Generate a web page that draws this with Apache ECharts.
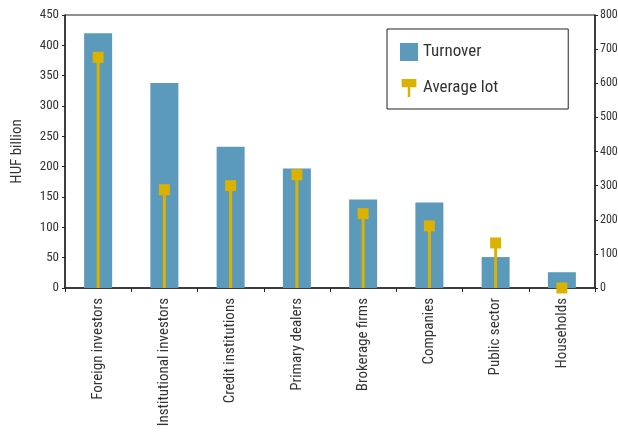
<html>
<head>
<meta charset="UTF-8">
<title>Turnover by sector</title>
<script src="https://cdn.jsdelivr.net/npm/echarts@6/dist/echarts.min.js"></script>
<style>
    body{ margin:0; background:#fff; }
    #main{ width:618px; height:433px; }
</style>
</head>
<body>
<div id="main"></div>
<script>
// data
var categories = ['Foreign investors', 'Institutional investors', 'Credit institutions', 'Primary dealers',
                  'Brokerage firms', 'Companies', 'Public sector', 'Households'];
var turnover = [420, 338, 233, 197, 146, 141, 51, 26];
var averageLot = [676, 288, 300, 332, 218, 182, 132, 0];

var font = '"Roboto Condensed", Roboto, sans-serif';
var blue = '#5b9aba';
var gold = '#dcb200';

var myChart = echarts.init(document.getElementById('main'));

var option = {
    animation: false,
    textStyle: { fontFamily: font },
    grid: {
        left: 65, right: 23, top: 15, bottom: 145,
        outerBoundsMode: 'none',
        containLabel: false,
        show: true, borderColor: '#222', borderWidth: 1
    },
    legend: {
        left: 387, top: 29,
        orient: 'vertical',
        padding: [14, 70, 12, 13],
        itemGap: 18,
        itemTextGap: 12,
        itemWidth: 18, itemHeight: 18,
        borderColor: '#222', borderWidth: 1,
        textStyle: { fontFamily: font, fontSize: 17, color: '#333' },
        data: [
            { name: 'Turnover', icon: 'rect' },
            { name: 'Average lot', icon: 'path://M0,0 L18,0 L18,10 L10.5,10 L10.5,22 L7.5,22 L7.5,10 L0,10 Z', itemStyle: { color: gold } }
        ]
    },
    xAxis: [{
        type: 'category',
        data: categories,
        axisLine: { lineStyle: { color: '#222', width: 1.5 } },
        axisTick: { show: true, alignWithLabel: false, length: 4, lineStyle: { color: '#222' } },
        axisLabel: { rotate: 90, fontSize: 15, color: '#333', margin: 10, fontFamily: font, interval: 0 }
    }, {
        // hidden twin axis so the thin stems sit centred on the bars
        type: 'category',
        data: categories,
        position: 'bottom',
        show: false
    }],
    yAxis: [{
        type: 'value',
        min: 0, max: 450, interval: 50,
        name: 'HUF billion',
        nameLocation: 'middle',
        nameGap: 40,
        nameTextStyle: { fontSize: 15, color: '#333', fontFamily: font },
        splitLine: { show: false },
        axisLine: { show: true, lineStyle: { color: '#222', width: 1.5 } },
        axisTick: { show: true, length: 3, lineStyle: { color: '#222' } },
        axisLabel: { fontSize: 13, color: '#333', margin: 6, fontFamily: font }
    }, {
        type: 'value',
        min: 0, max: 800, interval: 100,
        position: 'right',
        splitLine: { show: false },
        axisLine: { show: true, lineStyle: { color: '#222', width: 1.5 } },
        axisTick: { show: true, length: 3, lineStyle: { color: '#222' } },
        axisLabel: { fontSize: 12, color: '#333', margin: 5, fontFamily: font }
    }],
    series: [{
        name: 'Turnover',
        type: 'bar',
        data: turnover,
        barWidth: 28,
        itemStyle: { color: blue }
    }, {
        name: 'Average lot',
        type: 'bar',
        xAxisIndex: 1,
        yAxisIndex: 1,
        data: averageLot,
        barWidth: 3,
        itemStyle: { color: gold },
        z: 3
    }, {
        name: 'Average lot',
        type: 'scatter',
        xAxisIndex: 1,
        yAxisIndex: 1,
        data: averageLot,
        symbol: 'rect',
        symbolSize: 11,
        itemStyle: { color: gold, opacity: 1 },
        z: 5
    }]
};

myChart.setOption(option);
</script>
</body>
</html>
